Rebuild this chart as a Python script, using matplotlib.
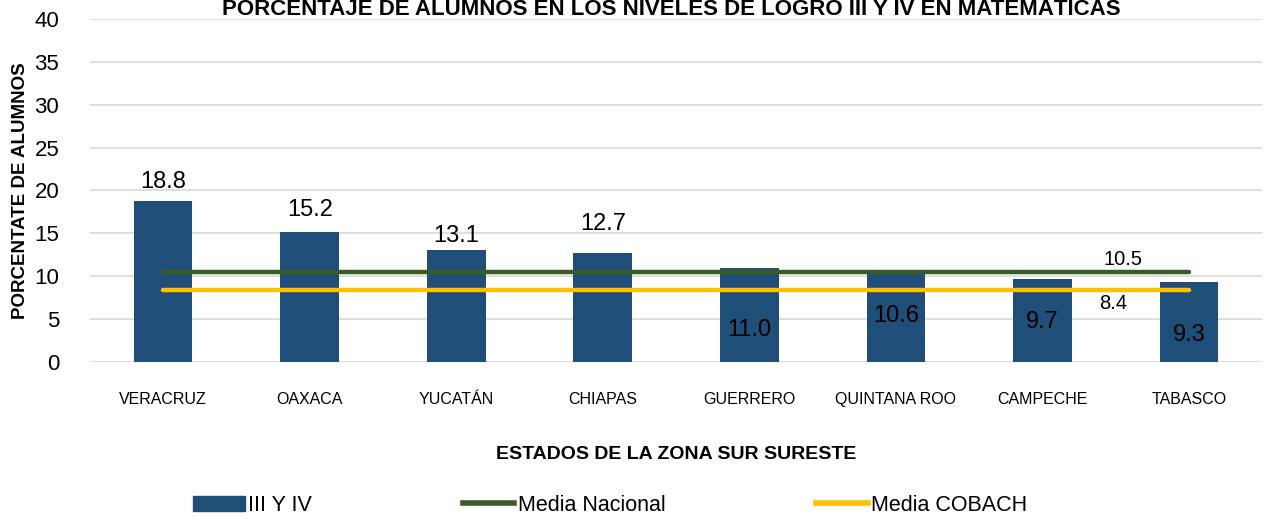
# Porcentaje de alumnos en niveles de logro III y IV, zona sur sureste

import matplotlib
matplotlib.use("Agg")
import matplotlib.pyplot as plt
from matplotlib.patches import Patch
from matplotlib.lines import Line2D

plt.rcParams['font.family'] = ['Liberation Sans', 'DejaVu Sans']

estados = ["VERACRUZ", "OAXACA", "YUCATÁN", "CHIAPAS", "GUERRERO",
           "QUINTANA ROO", "CAMPECHE", "TABASCO"]
niveles = [18.8, 15.2, 13.1, 12.7, 11.0, 10.6, 9.7, 9.3]
media_nacional = 10.5
media_cobach = 8.4

# vertical spot of each bar label (the original chart moves them around)
label_y = [21.0, 17.7, 14.7, 16.1, 3.7, 5.3, 4.7, 3.1]

BAR = "#1F4E79"
GREEN = "#3A5A26"
YELLOW = "#FFC000"

fig = plt.figure(figsize=(12.66, 5.2), dpi=100)
ax = fig.add_axes([0.071, 0.304, 0.926, 0.6596])

x = list(range(len(estados)))
ax.bar(x, niveles, width=0.40, color=BAR, zorder=2)
ax.plot(x, [media_nacional] * len(x), color=GREEN, lw=3.2,
        solid_capstyle="round", zorder=3)
ax.plot(x, [media_cobach] * len(x), color=YELLOW, lw=3.2,
        solid_capstyle="round", zorder=3)

for xi, v, yl in zip(x, niveles, label_y):
    ax.text(xi, yl, f"{v:.1f}", ha="center", va="center", fontsize=17,
            color="black", zorder=4)

ax.text(6.55, 11.9, f"{media_nacional:.1f}", ha="center", va="center", fontsize=14.5)
ax.text(6.48, 6.8, f"{media_cobach:.1f}", ha="center", va="center", fontsize=14.5)

ax.set_xlim(-0.5, 7.5)
ax.set_ylim(0, 40)
ax.set_yticks(range(0, 41, 5))
ax.set_xticks(x)
ax.set_xticklabels(estados, fontsize=11.5)
ax.tick_params(axis="y", labelsize=16, length=0, pad=22)
ax.tick_params(axis="x", length=0, pad=22)
ax.grid(axis="y", color="#D9D9D9", lw=1.2, zorder=0)
for s in ax.spines.values():
    s.set_visible(False)

ax.set_ylabel("PORCENTATE DE ALUMNOS", fontsize=13.5, fontweight="bold", labelpad=4)
ax.set_xlabel("ESTADOS DE LA ZONA SUR SURESTE", fontsize=14, fontweight="bold",
              labelpad=28)

fig.text(0.53, 0.982, "PORCENTAJE DE ALUMNOS EN LOS NIVELES DE LOGRO III Y IV EN MATEMÁTICAS",
         ha="center", va="center", fontsize=16, fontweight="bold")

handles = [Patch(color=BAR), Line2D([], [], color=GREEN, lw=4),
           Line2D([], [], color=YELLOW, lw=4)]
fig.legend(handles, ["III Y IV", "Media Nacional", "Media COBACH"],
           loc="center", bbox_to_anchor=(0.482, 0.028), ncol=3, frameon=False,
           handlelength=2.4, handletextpad=0.15, columnspacing=7.0,
           prop={'size': 15.5})

fig.savefig("out.png", dpi=100)
